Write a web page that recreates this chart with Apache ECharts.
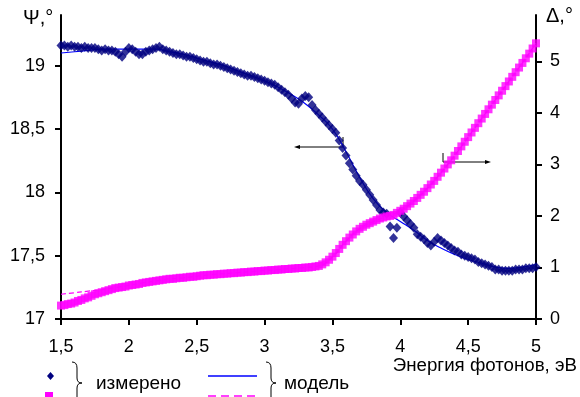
<!DOCTYPE html>
<html><head><meta charset="utf-8">
<script src="https://cdn.jsdelivr.net/npm/echarts@6/dist/echarts.min.js"></script>
<style>html,body{margin:0;padding:0;background:#fff}#c{width:580px;height:397px}</style>
</head><body><div id="c"></div>
<script>
var eMeas = [1.5,1.525,1.55,1.575,1.6,1.625,1.65,1.675,1.7,1.725,
1.75,1.775,1.8,1.825,1.85,1.875,1.9,1.925,1.95,1.975,
2,2.025,2.05,2.075,2.1,2.125,2.15,2.175,2.2,2.225,
2.25,2.275,2.3,2.325,2.35,2.375,2.4,2.425,2.45,2.475,
2.5,2.525,2.55,2.575,2.6,2.625,2.65,2.675,2.7,2.725,
2.75,2.775,2.8,2.825,2.85,2.875,2.9,2.925,2.95,2.975,
3,3.025,3.05,3.075,3.1,3.125,3.15,3.175,3.2,3.225,
3.25,3.275,3.3,3.325,3.35,3.375,3.4,3.425,3.45,3.475,
3.5,3.525,3.55,3.575,3.6,3.625,3.65,3.675,3.7,3.725,
3.75,3.775,3.8,3.825,3.85,3.875,3.9,3.925,3.95,3.975,
4,4.025,4.05,4.075,4.1,4.125,4.15,4.175,4.2,4.225,
4.25,4.275,4.3,4.325,4.35,4.375,4.4,4.425,4.45,4.475,
4.5,4.525,4.55,4.575,4.6,4.625,4.65,4.675,4.7,4.725,
4.75,4.775,4.8,4.825,4.85,4.875,4.9,4.925,4.95,4.975,
5];
var psiMeas = [19.16,19.16,19.15,19.16,19.15,19.15,19.14,19.15,19.14,19.14,
19.14,19.13,19.12,19.13,19.12,19.12,19.11,19.09,19.07,19.11,
19.14,19.13,19.11,19.09,19.09,19.11,19.12,19.13,19.14,19.15,
19.13,19.12,19.11,19.10,19.09,19.09,19.08,19.07,19.07,19.06,
19.05,19.04,19.03,19.03,19.02,19.01,19.01,19.00,18.99,18.98,
18.97,18.96,18.95,18.94,18.93,18.92,18.92,18.91,18.90,18.89,
18.88,18.87,18.86,18.85,18.83,18.81,18.79,18.77,18.74,18.71,
18.70,18.74,18.76,18.75,18.69,18.65,18.62,18.59,18.56,18.53,
18.50,18.47,18.41,18.35,18.29,18.23,18.18,18.13,18.09,18.06,
18.02,17.98,17.94,17.90,17.86,17.84,17.83,17.73,17.64,17.72,
17.84,17.81,17.78,17.75,17.72,17.67,17.65,17.63,17.60,17.58,
17.61,17.64,17.62,17.60,17.58,17.56,17.54,17.53,17.51,17.50,
17.49,17.48,17.47,17.45,17.44,17.43,17.42,17.41,17.39,17.39,
17.38,17.38,17.38,17.38,17.39,17.39,17.39,17.40,17.40,17.40,
17.41];
var deltaMeas = [0.26,0.27,0.29,0.30,0.32,0.35,0.37,0.40,0.42,0.45,
0.48,0.50,0.52,0.54,0.56,0.58,0.60,0.61,0.62,0.63,
0.65,0.66,0.67,0.68,0.70,0.71,0.72,0.73,0.74,0.75,
0.76,0.77,0.78,0.78,0.79,0.80,0.80,0.81,0.82,0.82,
0.83,0.84,0.85,0.85,0.86,0.86,0.87,0.87,0.88,0.88,
0.89,0.89,0.90,0.90,0.91,0.91,0.92,0.92,0.93,0.93,
0.94,0.94,0.95,0.95,0.96,0.96,0.97,0.97,0.98,0.98,
0.99,0.99,1.00,1.00,1.01,1.02,1.03,1.06,1.10,1.15,
1.21,1.28,1.36,1.44,1.51,1.58,1.64,1.70,1.75,1.79,
1.83,1.86,1.89,1.92,1.95,1.97,1.99,2.00,2.02,2.06,
2.10,2.14,2.19,2.24,2.29,2.35,2.41,2.47,2.54,2.61,
2.68,2.76,2.84,2.92,3.00,3.08,3.17,3.26,3.35,3.44,
3.53,3.62,3.71,3.80,3.89,3.98,4.07,4.16,4.25,4.34,
4.43,4.52,4.61,4.70,4.79,4.88,4.97,5.06,5.15,5.25,
5.35];
var eModel = [1.5,1.6,1.7,1.8,1.9,2.0,2.1,2.2,2.3,2.4,2.5,2.6,2.7,2.8,2.9,3.0,3.1,3.2,3.3,3.4,
3.5,3.6,3.7,3.8,3.9,4.0,4.1,4.2,4.3,4.4,4.5,4.6,4.7,4.8,4.9,5.0];
var psiModel = [19.10,19.11,19.12,19.13,19.13,19.13,19.13,19.13,19.11,19.09,19.06,19.03,19.00,18.96,18.92,18.88,18.83,18.77,18.70,18.61,
18.50,18.32,18.12,17.95,17.84,17.77,17.70,17.62,17.56,17.51,17.47,17.44,17.41,17.40,17.41,17.43];
var deltaModel = [0.48,0.51,0.54,0.57,0.61,0.65,0.70,0.74,0.78,0.80,0.83,0.86,0.88,0.90,0.92,0.94,0.96,0.98,1.00,1.03,
1.20,1.51,1.75,1.89,1.99,2.10,2.29,2.54,2.84,3.17,3.53,3.89,4.25,4.61,4.97,5.35];
var xTicks = [1.5,2,2.5,3,3.5,4,4.5,5];
var psiTicks = [17,17.5,18,18.5,19];
var deltaTicks = [0,1,2,3,4,5];
var labels = {psi:'Ψ,°', delta:'Δ,°', x:'Энергия фотонов, эВ', meas:'измерено', model:'модель'};

function zip(a,b){var r=[];for(var i=0;i<a.length;i++)r.push([a[i],b[i]]);return r;}
function fmt(v){return String(v).replace('.',',');}
var FONT='Liberation Sans, Arial, sans-serif';
var chart = echarts.init(document.getElementById('c'),null,{renderer:'canvas'});
var lbl = {color:'#000',fontSize:18,fontFamily:FONT,formatter:fmt};
var axLine = {show:true,onZero:false,lineStyle:{color:'#000',width:2}};
function tick(vals){var t={show:true,length:6,lineStyle:{color:'#000',width:2}};if(vals)t.customValues=vals;return t;}
function brace(x,yTop,yBot){
  var m=(yTop+yBot)/2, s={fill:null,stroke:'#000',lineWidth:1};
  return [
    {type:'bezierCurve',shape:{x1:x,y1:yTop,x2:x+5,y2:yTop+6,cpx1:x+5,cpy1:yTop},style:s},
    {type:'line',shape:{x1:x+5,y1:yTop+6,x2:x+5,y2:m-5},style:s},
    {type:'bezierCurve',shape:{x1:x+5,y1:m-5,x2:x+10,y2:m,cpx1:x+5,cpy1:m},style:s},
    {type:'bezierCurve',shape:{x1:x+10,y1:m,x2:x+5,y2:m+5,cpx1:x+5,cpy1:m},style:s},
    {type:'line',shape:{x1:x+5,y1:m+5,x2:x+5,y2:yBot-6},style:s},
    {type:'bezierCurve',shape:{x1:x+5,y1:yBot-6,x2:x,y2:yBot,cpx1:x+5,cpy1:yBot},style:s}
  ];
}
var graphics = [
  {type:'text',x:23,y:8,style:{text:labels.psi,fontSize:20,fontFamily:FONT,fill:'#000'}},
  {type:'text',x:546,y:6,style:{text:labels.delta,fontSize:20,fontFamily:FONT,fill:'#000'}},
  {type:'text',x:577,y:356,style:{text:labels.x,fontSize:18.7,fontFamily:FONT,fill:'#000',align:'right'}},
  {type:'line',shape:{x1:343,y1:137,x2:343,y2:147},style:{stroke:'#000',lineWidth:1}},
  {type:'line',shape:{x1:343,y1:147,x2:299,y2:147},style:{stroke:'#000',lineWidth:1}},
  {type:'polygon',shape:{points:[[294,147],[300,145],[300,149]]},style:{fill:'#000'}},
  {type:'line',shape:{x1:443,y1:153,x2:443,y2:162},style:{stroke:'#000',lineWidth:1}},
  {type:'line',shape:{x1:443,y1:162,x2:486,y2:162},style:{stroke:'#000',lineWidth:1}},
  {type:'polygon',shape:{points:[[491,162],[485,160],[485,164]]},style:{fill:'#000'}},
  {type:'polygon',shape:{points:[[50.5,372],[54,376],[50.5,380],[47,376]]},style:{fill:'#000080'}},
  {type:'rect',shape:{x:45,y:392,width:8,height:8},style:{fill:'#ff00ff'}},
  {type:'text',x:96,y:374,style:{text:labels.meas,fontSize:19,fontFamily:FONT,fill:'#000'}},
  {type:'line',shape:{x1:208,y1:376,x2:257,y2:376},style:{stroke:'#0000ff',lineWidth:1.5}},
  {type:'line',shape:{x1:208,y1:396,x2:257,y2:396},style:{stroke:'#ff00ff',lineWidth:1.5,lineDash:[8,5]}},
  {type:'text',x:284,y:374,style:{text:labels.model,fontSize:19,fontFamily:FONT,fill:'#000'}}
].concat(brace(72,362,404)).concat(brace(266,362,404));

chart.setOption({
  animation:false,
  grid:{left:61,right:44,top:15,bottom:78,containLabel:false},
  xAxis:{type:'value',min:1.5,max:5,interval:0.5,axisLine:axLine,axisTick:tick(),splitLine:{show:false},
    axisLabel:Object.assign({},lbl,{margin:19})},
  yAxis:[
    {type:'value',min:17,max:19.4,position:'left',axisLine:axLine,axisTick:tick(psiTicks),splitLine:{show:false},
      axisLabel:Object.assign({},lbl,{customValues:psiTicks,margin:16})},
    {type:'value',min:0,max:5.9,position:'right',axisLine:axLine,axisTick:tick(deltaTicks),splitLine:{show:false},
      axisLabel:Object.assign({},lbl,{customValues:deltaTicks,margin:14})}
  ],
  series:[
    {type:'line',yAxisIndex:0,data:zip(eModel,psiModel),smooth:true,showSymbol:false,symbol:'none',
     lineStyle:{color:'#0000ff',width:1.2},z:1},
    {type:'line',yAxisIndex:1,data:zip(eModel,deltaModel),smooth:true,showSymbol:false,symbol:'none',
     lineStyle:{color:'#ff00ff',width:1.2,type:[5,3]},z:1},
    {type:'scatter',yAxisIndex:0,data:zip(eMeas,psiMeas),symbol:'diamond',symbolSize:[9,10],
     itemStyle:{color:'#000080'},z:2},
    {type:'scatter',yAxisIndex:1,data:zip(eMeas,deltaMeas),symbol:'rect',symbolSize:8,
     itemStyle:{color:'#ff00ff'},z:3}
  ],
  graphic:graphics
});
</script></body></html>
